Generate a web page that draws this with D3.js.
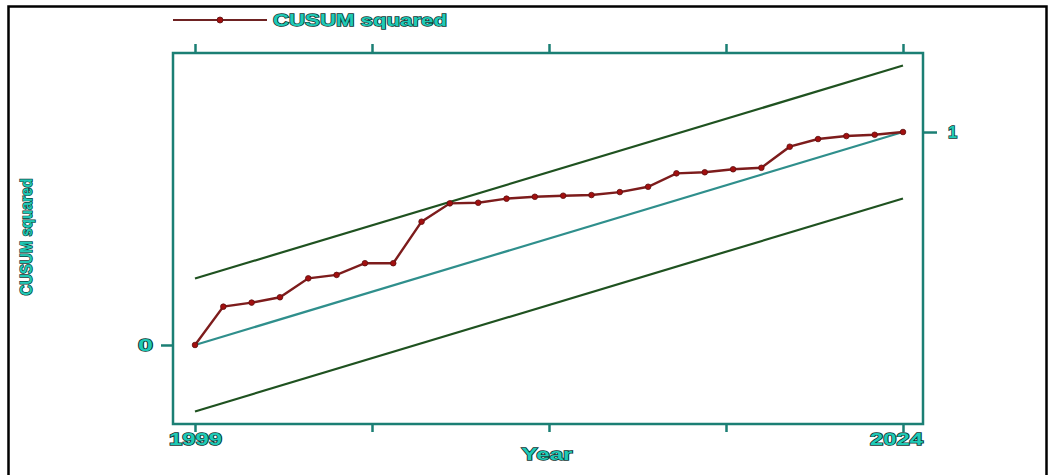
<!DOCTYPE html>
<html>
<head>
<meta charset="utf-8">
<script src="https://cdn.jsdelivr.net/npm/d3@7"></script>
<style>
  html, body { margin: 0; padding: 0; background: #fff; }
  svg { display: block; }
  .lbl { font-family: "Liberation Sans", Arial, sans-serif; font-weight: bold;
         fill: #1fcab6; stroke: #0f3633; stroke-width: 1.4px; paint-order: stroke; }
</style>
</head>
<body>
<svg id="chart" width="1052" height="475"></svg>
<script>
// ---- data ----
const years = [1999, 2000, 2001, 2002, 2003, 2004, 2005, 2006, 2007, 2008, 2009, 2010, 2011,
               2012, 2013, 2014, 2015, 2016, 2017, 2018, 2019, 2020, 2021, 2022, 2023, 2024];
const cusumsq = [0, 0.180, 0.199, 0.224, 0.313, 0.329, 0.384, 0.384, 0.579, 0.665, 0.668, 0.687, 0.696,
                 0.701, 0.704, 0.718, 0.743, 0.806, 0.811, 0.825, 0.832, 0.931, 0.967, 0.981, 0.987, 1.000];
const lineYears = [1999, 2024];
const expected = [0, 1];
const upperBound = [0.312, 1.312];
const lowerBound = [-0.312, 0.688];
const xTicks = [1999, 2005.25, 2011.5, 2017.75, 2024];
const xTickLabels = ["1999", "", "", "", "2024"];
const yTicksLeft = [0];
const yTicksRight = [1];
const seriesName = "CUSUM squared";
const xTitle = "Year";
const yTitle = "CUSUM squared";

// ---- layout ----
const svg = d3.select("#chart");
const frame = {left: 173, right: 923, top: 53, bottom: 424};
const x = d3.scaleLinear().domain([1999, 2024]).range([195, 903]);
const y = d3.scaleLinear().domain([-0.371, 1.371]).range([frame.bottom, frame.top]);

const axisColor = "#1b7f74";
const dataColor = "#7d1c1c";
const markerColor = "#a30f0f";
const boundColor = "#1f5220";
const expColor = "#2f8f8c";

// outer black border
svg.append("rect").attr("x", 8.5).attr("y", 6.5).attr("width", 1038).attr("height", 480)
  .attr("fill", "none").attr("stroke", "#000").attr("stroke-width", 2.5);

// plot lines
const lineGen = (vals) => d3.line().x((d, i) => x(lineYears[i])).y(d => y(d))(vals);
svg.append("path").attr("d", lineGen(upperBound)).attr("fill", "none")
  .attr("stroke", boundColor).attr("stroke-width", 2.2);
svg.append("path").attr("d", lineGen(lowerBound)).attr("fill", "none")
  .attr("stroke", boundColor).attr("stroke-width", 2.2);
svg.append("path").attr("d", lineGen(expected)).attr("fill", "none")
  .attr("stroke", expColor).attr("stroke-width", 2.2);

const dataLine = d3.line().x((d, i) => x(years[i])).y(d => y(d));
svg.append("path").attr("d", dataLine(cusumsq)).attr("fill", "none")
  .attr("stroke", dataColor).attr("stroke-width", 2.4);
svg.append("g").selectAll("circle").data(cusumsq).join("circle")
  .attr("cx", (d, i) => x(years[i])).attr("cy", d => y(d)).attr("r", 2.8)
  .attr("fill", markerColor).attr("stroke", "#5a1010").attr("stroke-width", 0.8);

// frame
svg.append("rect").attr("x", frame.left).attr("y", frame.top)
  .attr("width", frame.right - frame.left).attr("height", frame.bottom - frame.top)
  .attr("fill", "none").attr("stroke", axisColor).attr("stroke-width", 2.5);

// axes
function styleAxis(g) {
  g.select(".domain").remove();
  g.selectAll(".tick line").attr("stroke", axisColor).attr("stroke-width", 2.5);
}
svg.append("g").attr("transform", `translate(0,${frame.top})`)
  .call(d3.axisTop(x).tickValues(xTicks).tickSize(9).tickFormat(""))
  .call(styleAxis);

const bx = svg.append("g").attr("transform", `translate(0,${frame.bottom})`)
  .call(d3.axisBottom(x).tickValues(xTicks).tickSize(8).tickPadding(6)
        .tickFormat((d, i) => xTickLabels[i]))
  .call(styleAxis);
bx.selectAll(".tick text").attr("class", "lbl").attr("font-size", 16.5)
  .attr("y", 21).attr("dy", 0)
  .attr("dx", (d, i) => i === xTicks.length - 1 ? -7 : 0)
  .filter((d, i) => xTickLabels[i] !== "")
  .attr("textLength", 53).attr("lengthAdjust", "spacingAndGlyphs");

const ly = svg.append("g").attr("transform", `translate(${frame.left},0)`)
  .call(d3.axisLeft(y).tickValues(yTicksLeft).tickSize(12).tickPadding(8).tickFormat(d3.format("d")))
  .call(styleAxis);
ly.selectAll(".tick text").attr("class", "lbl").attr("font-size", 16.5)
  .attr("textLength", 15).attr("lengthAdjust", "spacingAndGlyphs");

const ry = svg.append("g").attr("transform", `translate(${frame.right},0)`)
  .call(d3.axisRight(y).tickValues(yTicksRight).tickSize(14).tickPadding(11).tickFormat(d3.format("d")))
  .call(styleAxis);
ry.selectAll(".tick text").attr("class", "lbl").attr("font-size", 16.5);

// titles
svg.append("text").attr("class", "lbl").attr("x", 547).attr("y", 460)
  .attr("text-anchor", "middle").attr("font-size", 16.5)
  .attr("textLength", 51).attr("lengthAdjust", "spacingAndGlyphs").text(xTitle);

svg.append("text").attr("class", "lbl")
  .attr("transform", "translate(32,237) rotate(-90)")
  .attr("text-anchor", "middle").attr("font-size", 17)
  .attr("textLength", 117).attr("lengthAdjust", "spacingAndGlyphs").text(yTitle);

// legend
const leg = svg.append("g");
leg.append("line").attr("x1", 173).attr("x2", 267).attr("y1", 20).attr("y2", 20)
  .attr("stroke", "#6e2222").attr("stroke-width", 2.2);
leg.append("circle").attr("cx", 220).attr("cy", 20).attr("r", 3)
  .attr("fill", markerColor).attr("stroke", "#5a1010").attr("stroke-width", 0.8);
leg.append("text").attr("class", "lbl").attr("x", 273).attr("y", 26)
  .attr("font-size", 17).attr("textLength", 174).attr("lengthAdjust", "spacingAndGlyphs")
  .text(seriesName);
</script>
</body>
</html>
